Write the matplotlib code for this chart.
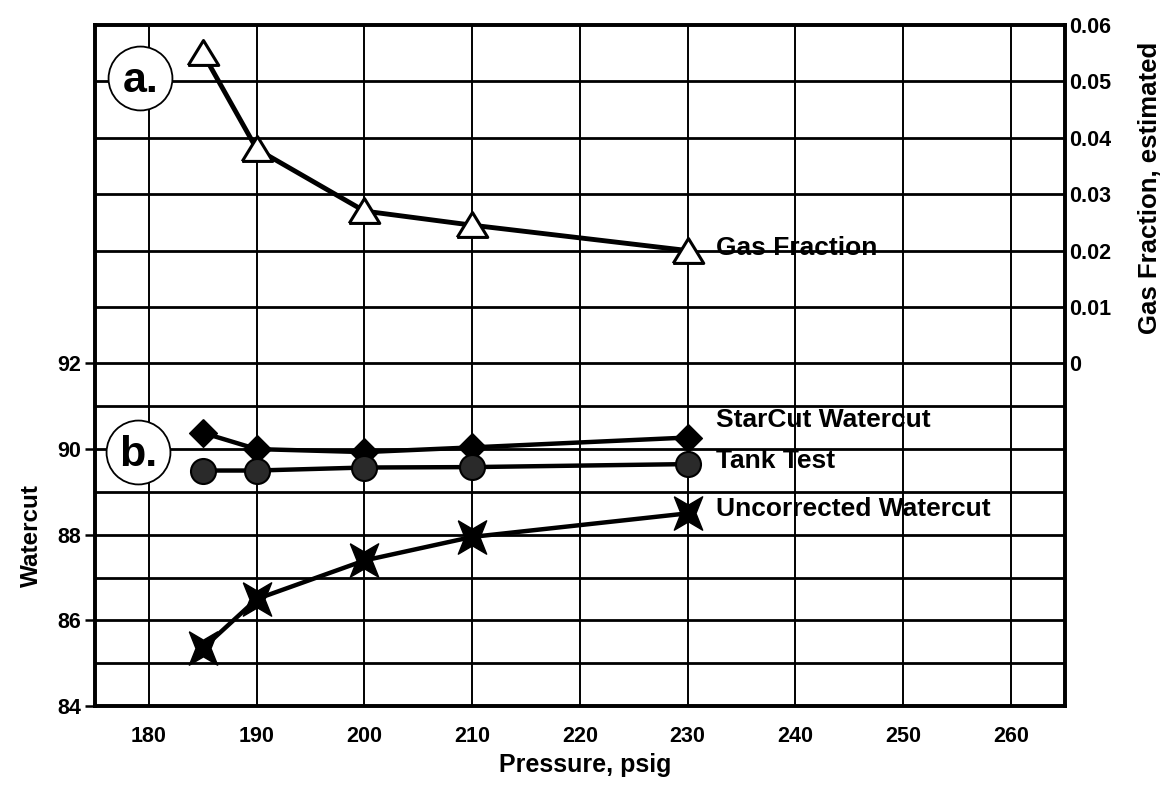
import matplotlib
matplotlib.use("Agg")
import matplotlib.pyplot as plt

plt.rcParams['font.family'] = ['Liberation Sans', 'DejaVu Sans']
plt.rcParams['font.weight'] = 'bold'

# ---- data ----
pressure = [185, 190, 200, 210, 230]
gas_fraction = [0.055, 0.038, 0.027, 0.0245, 0.020]
starcut_watercut = [90.38, 90.0, 89.93, 90.04, 90.27]
tank_test = [89.5, 89.5, 89.57, 89.58, 89.65]
uncorrected_watercut = [85.35, 86.5, 87.4, 87.95, 88.5]

x_ticks = [180, 190, 200, 210, 220, 230, 240, 250, 260]
left_ticks = [84, 86, 88, 90, 92]
left_grid = [85, 86, 87, 88, 89, 90, 91, 92]
right_ticks = [0, 0.01, 0.02, 0.03, 0.04, 0.05, 0.06]
right_ticklabels = ['0', '0.01', '0.02', '0.03', '0.04', '0.05', '0.06']

W, H = 1175, 807
fig = plt.figure(figsize=(W / 100, H / 100), dpi=100)
ax = fig.add_axes([0.081, 0.125, 0.825, 0.844])
ax2 = ax.twinx()

ax.set_xlim(175, 265)
ax.set_ylim(84, 99.9)
ax2.set_ylim(-0.0608, 0.06)

# grid
for xv in x_ticks:
    ax.axvline(xv, color='black', lw=1.4, zorder=1)
for yv in left_grid:
    ax.axhline(yv, color='black', lw=2.0, zorder=1)
for yv in right_ticks[1:-1]:
    ax2.axhline(yv, color='black', lw=2.0, zorder=1)

# watercut series
line_kw = dict(color='black', lw=3.2, zorder=3)
diamond = [(0, 1), (1, 0), (0, -1), (-1, 0), (0, 1)]
star4 = [(-0.85, 1), (0, 0.5), (0.85, 1), (0.45, 0), (0.85, -1), (0, -0.5),
         (-0.85, -1), (-0.45, 0), (-0.85, 1)]
ax.plot(pressure, starcut_watercut, marker=diamond, ms=20, mfc='black', mec='black', **line_kw)
ax.plot(pressure, tank_test, marker='o', ms=18, mfc='#2a2a2a', mec='black', mew=1.5, **line_kw)
ax.plot(pressure, uncorrected_watercut, marker=star4, ms=24, mfc='black', mec='black', mew=1.0, **line_kw)

# gas fraction series
tri = [(-1, -0.78), (1, -0.78), (0, 0.85), (-1, -0.78)]
ax2.plot(pressure, gas_fraction, color='black', lw=3.5, marker=tri, ms=22,
         mfc='white', mec='black', mew=2.2, zorder=3)

# series labels
lab_kw = dict(fontsize=19, fontweight='bold', va='center', ha='left', zorder=4)
ax2.text(232.6, 0.0205, 'Gas Fraction', **lab_kw)
ax.text(232.6, 90.69, 'StarCut Watercut', **lab_kw)
ax.text(232.6, 89.72, 'Tank Test', **lab_kw)
ax.text(232.6, 88.6, 'Uncorrected Watercut', **lab_kw)

# circled panel letters
for (fx, fy, s) in [(0.046, 0.922, 'a.'), (0.044, 0.373, 'b.')]:
    ax2.plot(fx, fy, 'o', ms=46, mfc='white', mec='black', mew=1.3,
             transform=ax2.transAxes, clip_on=False, zorder=5)
    ax2.text(fx + 0.001, fy - 0.004, s, transform=ax2.transAxes, fontsize=31,
             fontweight='bold', ha='center', va='center', zorder=6)

# ticks
ax.set_xticks(x_ticks)
ax.set_xticklabels([str(v) for v in x_ticks], fontsize=15.5, fontweight='bold')
ax.tick_params(axis='x', length=0, pad=14)
ax.set_yticks(left_ticks)
ax.set_yticklabels([str(v) for v in left_ticks], fontsize=15.5, fontweight='bold')
ax.tick_params(axis='y', length=7, width=1.8, pad=3)
ax2.set_yticks(right_ticks)
ax2.set_yticklabels(right_ticklabels, fontsize=15.5, fontweight='bold')
ax2.tick_params(axis='y', length=0, pad=3)

for a in (ax, ax2):
    for sp in a.spines.values():
        sp.set_linewidth(2.6)

# axis titles
fig.text(585 / W, 1 - 765 / H, 'Pressure, psig', fontsize=18, fontweight='bold',
         ha='center', va='center')
fig.text(31 / W, 1 - 536 / H, 'Watercut', fontsize=17.5, fontweight='bold',
         ha='center', va='center', rotation=90)
fig.text(1150 / W, 1 - 188 / H, 'Gas Fraction, estimated', fontsize=18.5, fontweight='bold',
         ha='center', va='center', rotation=90)

fig.savefig('out.png', dpi=100)
